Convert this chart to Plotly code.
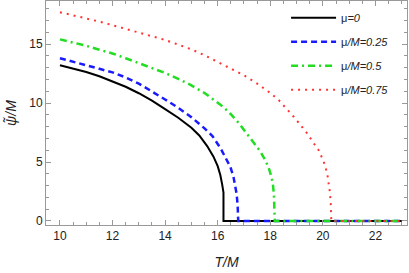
import plotly.graph_objects as go

# Data
T_mu0 = [10, 10.5, 11, 11.5, 12, 12.5, 13, 13.5, 14, 14.5, 15, 15.3, 15.6, 15.84, 16.0, 16.1, 16.17, 16.21, 16.22, 16.22, 23]
V_mu0 = [13.2, 12.93, 12.63, 12.27, 11.85, 11.38, 10.83, 10.2, 9.48, 8.75, 7.9, 7.25, 6.35, 5.45, 4.65, 3.9, 3.1, 2.55, 2.4, 0, 0]

T_mu025 = [10, 10.5, 11, 11.5, 12, 12.5, 13, 13.5, 14, 14.5, 15, 15.5, 15.8, 16.1, 16.3, 16.48, 16.6, 16.67, 16.72, 16.76, 16.78, 23]
V_mu025 = [13.8, 13.52, 13.22, 12.9, 12.6, 12.17, 11.65, 11.0, 10.3, 9.6, 8.8, 7.85, 7.2, 6.2, 5.4, 4.6, 3.75, 3.05, 2.3, 1.3, 0, 0]

T_mu05 = [10, 10.5, 11, 11.5, 12, 12.5, 13, 13.5, 14, 14.5, 15, 15.5, 15.84, 16.2, 16.5, 16.8, 17.11, 17.4, 17.62, 17.8, 17.94, 18.05, 18.1, 18.14, 18.16, 18.17, 23]
V_mu05 = [15.4, 15.15, 14.85, 14.52, 14.2, 13.8, 13.4, 12.95, 12.55, 12.05, 11.5, 10.85, 10.3, 9.7, 9.05, 8.3, 7.4, 6.6, 5.9, 5.2, 4.5, 3.7, 3.1, 2.2, 1.2, 0, 0]

T_mu075 = [10, 10.5, 11, 11.5, 12, 12.5, 13, 13.5, 14, 14.5, 15, 15.5, 16, 16.5, 17, 17.5, 18, 18.32, 18.6, 18.89, 19.2, 19.4, 19.65, 19.84, 20.0, 20.1, 20.18, 20.22, 20.27, 20.3, 20.32, 23]
V_mu075 = [17.7, 17.45, 17.2, 16.9, 16.6, 16.3, 16.0, 15.7, 15.35, 14.95, 14.55, 14.05, 13.5, 12.95, 12.35, 11.65, 10.85, 10.25, 9.6, 8.84, 8.0, 7.43, 6.6, 6.0, 5.2, 4.6, 3.8, 3.2, 2.4, 1.5, 0, 0]

x_ticks = [10, 12, 14, 16, 18, 20, 22]
y_ticks = [0, 5, 10, 15]

names = ["μ<i>=0</i>", "μ<i>/M=0.25</i>", "μ<i>/M=0.5</i>", "μ<i>/M=0.75</i>"]

fig = go.Figure()
fig.add_trace(go.Scatter(x=T_mu0, y=V_mu0, mode="lines", name=names[0], legendgroup="a",
                         line=dict(color="black", width=2)))
fig.add_trace(go.Scatter(x=T_mu025, y=V_mu025, mode="lines", name=names[1], legendgroup="b",
                         line=dict(color="#1a1aff", width=2.5, dash="6px,4px")))
fig.add_trace(go.Scatter(x=T_mu05, y=V_mu05, mode="lines", name=names[2], legendgroup="c",
                         line=dict(color="#22dd22", width=2.5, dash="7px,4px,2px,4px")))
fig.add_trace(go.Scatter(x=T_mu075, y=V_mu075, mode="lines", name=names[3], legendgroup="d",
                         line=dict(color="#ff3333", width=2, dash="2px,5px")))

axis_common = dict(
    showgrid=False, zeroline=False, showline=True, linecolor="#999", linewidth=1,
    mirror="allticks", ticks="inside", ticklen=5, tickcolor="#999", tickwidth=1,
    automargin=False,
    tickfont=dict(family="Liberation Sans, Arial", size=12, color="#222"),
)

fig.update_xaxes(range=[9.47, 23.2], tickvals=x_ticks,
                 minor=dict(dtick=0.5, ticks="inside", ticklen=3, tickcolor="#999"),
                 title=dict(text="<i>T/M</i>", font=dict(family="Liberation Sans, Arial", size=14, color="#222"), standoff=14),
                 **axis_common)
fig.update_yaxes(range=[-0.34, 18.65], tickvals=y_ticks,
                 minor=dict(dtick=1, ticks="inside", ticklen=3, tickcolor="#999"),
                 title=dict(text="<i>ψ̃/M</i>", font=dict(family="Liberation Sans, Arial", size=14, color="#222"), standoff=9),
                 **axis_common)

fig.update_layout(
    width=409, height=273,
    margin=dict(l=46, r=2, t=1, b=48),
    plot_bgcolor="white", paper_bgcolor="white",
    legend=dict(x=0.665, y=0.99, xanchor="left", yanchor="top", bgcolor="rgba(0,0,0,0)",
                font=dict(family="Liberation Sans, Arial", size=11, color="#222"),
                itemwidth=45, tracegroupgap=5),
)

fig.write_html("out.html", config={"displayModeBar": False},
               post_script="document.body.style.margin='0px';")
